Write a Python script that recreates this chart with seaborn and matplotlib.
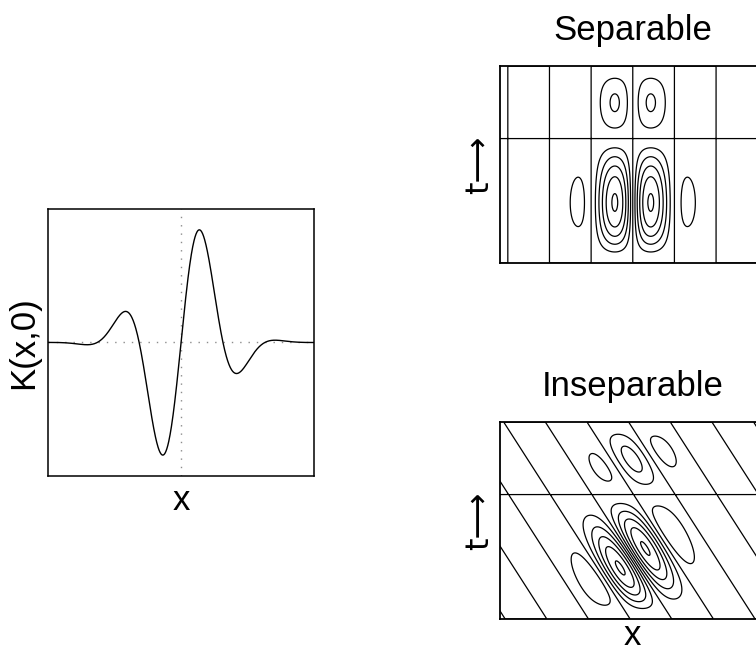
import numpy as np
import matplotlib
matplotlib.use("Agg")
import matplotlib.pyplot as plt
import seaborn as sns

# K(x,0) profile (left panel)
profile_half_period = 0.315   # distance between neighbouring zero crossings
profile_sigma = 0.26          # gaussian envelope width
profile_amp = 0.99

# space-time kernels (right panels)
space_half_period = 0.313     # spacing of the zero lines in x
space_sigma = 0.247
t_zero = 0.632                # temporal sign change (fraction of height)
t_powers = [1.55, 1.37]       # rise / decay of the temporal lobes
slant = 0.95                  # drift of the inseparable kernel
insep_center = [-0.025, 0.335]
contour_steps = [-5, -4, -3, -2, -1, 0, 1, 2, 3, 4, 5]
top_step = 5.15               # strongest lobe, in contour steps

titles = ["Separable", "Inseparable"]


def temporal(t):
    return t ** t_powers[0] * (1 - t) ** t_powers[1] * (t_zero - t)


def envelope(x):
    return np.exp(-x ** 2 / (2 * space_sigma ** 2))


def main():
    sns.set_style("white")
    plt.rcParams["font.family"] = ["Liberation Sans", "DejaVu Sans"]
    plt.rcParams["text.color"] = "k"
    plt.rcParams["axes.labelcolor"] = "k"
    plt.rcParams["contour.negative_linestyle"] = "solid"

    fig = plt.figure(figsize=(7.56, 6.52), dpi=100)

    # left: K(x,0)
    ax = fig.add_axes([0.0635, 0.270, 0.352, 0.4095])
    xs = np.linspace(-1, 1, 801)
    ks = profile_amp * np.exp(-xs ** 2 / (2 * profile_sigma ** 2)) * np.sin(np.pi * xs / profile_half_period)
    ax.axhline(0, color="0.55", lw=1, ls=(0, (1, 5)))
    ax.axvline(0, color="0.55", lw=1, ls=(0, (1, 5)))
    sns.lineplot(x=xs, y=ks, color="k", lw=1, ax=ax)
    ax.set_xlim(-1, 1)
    ax.set_ylim(-1, 1)
    ax.set_xticks([])
    ax.set_yticks([])
    ax.set_xlabel("x", fontsize=25, labelpad=6)
    ax.set_ylabel("K(x,0)", fontsize=25, labelpad=6)
    for s in ax.spines.values():
        s.set_color("k")
        s.set_linewidth(1.1)

    # right: separable / inseparable contours
    gx = np.linspace(-1, 1, 301)
    gt = np.linspace(0, 1, 301)
    X, T = np.meshgrid(gx, gt)
    sep = temporal(T) * envelope(X) * np.sin(np.pi * X / space_half_period)
    arg = X - insep_center[0] + slant * (T - insep_center[1])
    insep = temporal(T) * envelope(X) * np.sin(np.pi * arg / space_half_period)

    boxes = [[0.661, 0.5966, 0.352, 0.302], [0.661, 0.0506, 0.352, 0.302]]
    for i, K in enumerate([sep, insep]):
        a = fig.add_axes(boxes[i])
        step = np.abs(K).max() / top_step
        levels = [c * step for c in contour_steps]
        a.contour(X, T, K, levels=levels, colors="k", linewidths=0.9, linestyles="solid")
        a.set_xlim(-1, 1)
        a.set_ylim(0, 1)
        a.set_xticks([])
        a.set_yticks([])
        a.set_title(titles[i], fontsize=25, pad=19)
        # long arrow so the label reads like the original "t->"
        a.set_ylabel("t\u27f6", fontsize=23, labelpad=3, fontfamily="DejaVu Sans")
        for s in a.spines.values():
            s.set_color("k")
            s.set_linewidth(1.3)
        if i == 1:
            a.set_xlabel("x", fontsize=25, labelpad=0)

    fig.savefig("out.png", dpi=100)


if __name__ == "__main__":
    main()
